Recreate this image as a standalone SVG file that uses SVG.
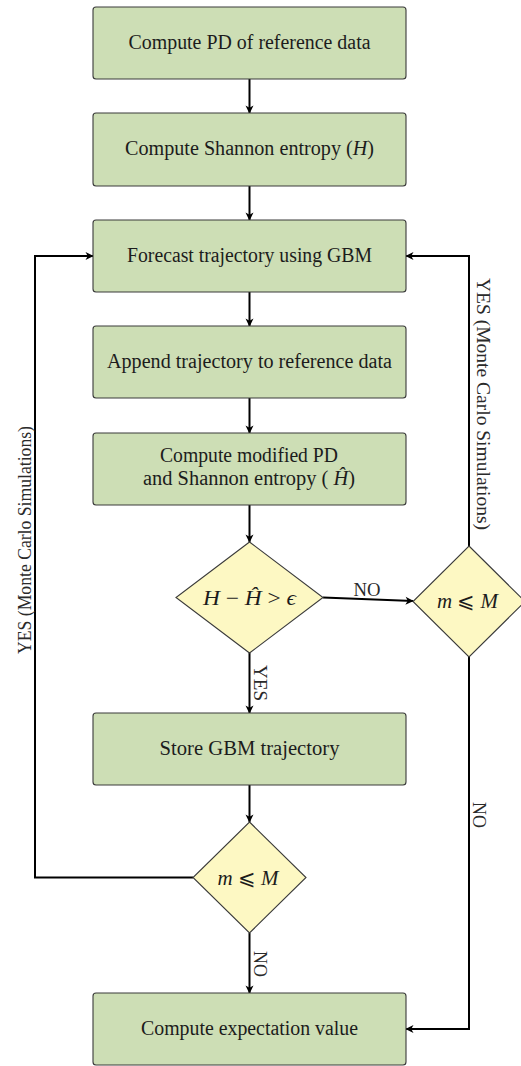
<svg xmlns="http://www.w3.org/2000/svg" width="521" height="1066" viewBox="0 0 521 1066" font-family="Liberation Serif, DejaVu Serif, serif">
<style>
.box{fill:#cddeb5;stroke:#3a3a3a;stroke-width:1.1}
.dia{fill:#fdf8c3;stroke:#3a3a3a;stroke-width:1.1}
text{font-family:'Liberation Serif','DejaVu Serif',serif}
.t{font-size:20.5px;fill:#1c1c1c;text-anchor:middle}
.m{font-size:21px;fill:#1c1c1c;text-anchor:middle}
.i{font-style:italic}
.l{font-size:19.5px;fill:#2a2a2a;text-anchor:middle}
.c{fill:none;stroke:#000;stroke-width:2;marker-end:url(#ar)}
</style>
<defs>
<marker id="ar" markerWidth="10" markerHeight="10" refX="0" refY="0" viewBox="-7 -4 8 8" markerUnits="userSpaceOnUse" orient="auto">
<path d="M0.5,0 L-6,-3.2 L-4.2,0 L-6,3.2 Z" fill="#000"/>
</marker>
</defs>
<g id="connectors">
<path class="c" d="M249.5,79 V113"/>
<path class="c" d="M249.5,186 V220"/>
<path class="c" d="M249.5,292 V326"/>
<path class="c" d="M249.5,398 V433"/>
<path class="c" d="M249.5,505 V542"/>
<path class="c" d="M323,597.5 L413,601"/>
<path class="c" d="M249.5,653 V713"/>
<path class="c" d="M249.5,785 V822"/>
<path class="c" d="M249.5,933 V993"/>
<path class="c" d="M193,877.5 H35 V256 H93"/>
<path class="c" d="M469,546 V256 H406"/>
<path class="c" d="M469,657 V1029 H406"/>
<text class="l" x="367" y="596" textLength="27" lengthAdjust="spacingAndGlyphs">NO</text>
<text class="l" transform="translate(254,683) rotate(90)" textLength="36" lengthAdjust="spacingAndGlyphs">YES</text>
<text class="l" transform="translate(254,964) rotate(90)" textLength="26" lengthAdjust="spacingAndGlyphs">NO</text>
<text class="l" transform="translate(473,815) rotate(90)" textLength="26" lengthAdjust="spacingAndGlyphs">NO</text>
<text class="l" transform="translate(477,404) rotate(90)" textLength="252" lengthAdjust="spacingAndGlyphs">YES (Monte Carlo Simulations)</text>
<text class="l" transform="translate(31,540) rotate(-90)" textLength="228" lengthAdjust="spacingAndGlyphs">YES (Monte Carlo Simulations)</text>
</g>
<g id="n1">
<rect class="box" x="93" y="7" width="313" height="72" rx="3"/>
<text class="t" x="249.5" y="49" textLength="242" lengthAdjust="spacingAndGlyphs">Compute PD of reference data</text>
</g>
<g id="n2">
<rect class="box" x="93" y="113" width="313" height="73" rx="3"/>
<text class="t" x="249.5" y="155" textLength="249" lengthAdjust="spacingAndGlyphs">Compute Shannon entropy (<tspan class="i">H</tspan>)</text>
</g>
<g id="n3">
<rect class="box" x="93" y="220" width="313" height="72" rx="3"/>
<text class="t" x="249.5" y="262" textLength="245" lengthAdjust="spacingAndGlyphs">Forecast trajectory using GBM</text>
</g>
<g id="n4">
<rect class="box" x="93" y="326" width="313" height="72" rx="3"/>
<text class="t" x="249.5" y="368" textLength="285" lengthAdjust="spacingAndGlyphs">Append trajectory to reference data</text>
</g>
<g id="n5">
<rect class="box" x="93" y="433" width="313" height="72" rx="3"/>
<text class="t" x="249" y="462" textLength="178" lengthAdjust="spacingAndGlyphs">Compute modified PD</text>
<text class="t" x="249" y="485" textLength="212" lengthAdjust="spacingAndGlyphs">and Shannon entropy ( <tspan class="i">Ĥ</tspan>)</text>
</g>
<g id="d1">
<polygon class="dia" points="249.5,542 323,597.5 249.5,653 176,597.5"/>
<text class="m" x="249.5" y="605" textLength="93" lengthAdjust="spacingAndGlyphs"><tspan class="i">H</tspan> − <tspan class="i">Ĥ</tspan> &gt; <tspan class="i">ϵ</tspan></text>
</g>
<g id="d2">
<polygon class="dia" points="469,546 525,601.5 469,657 413,601.5"/>
<text class="m" x="467.5" y="608" textLength="61" lengthAdjust="spacingAndGlyphs"><tspan class="i">m</tspan> ⩽ <tspan class="i">M</tspan></text>
</g>
<g id="n6">
<rect class="box" x="93" y="713" width="313" height="72" rx="3"/>
<text class="t" x="249.5" y="755" textLength="180" lengthAdjust="spacingAndGlyphs">Store GBM trajectory</text>
</g>
<g id="d3">
<polygon class="dia" points="249.5,822 306,877.5 249.5,933 193,877.5"/>
<text class="m" x="248" y="885" textLength="61" lengthAdjust="spacingAndGlyphs"><tspan class="i">m</tspan> ⩽ <tspan class="i">M</tspan></text>
</g>
<g id="n7">
<rect class="box" x="93" y="993" width="313" height="72" rx="3"/>
<text class="t" x="249.5" y="1035" textLength="217" lengthAdjust="spacingAndGlyphs">Compute expectation value</text>
</g>
</svg>
